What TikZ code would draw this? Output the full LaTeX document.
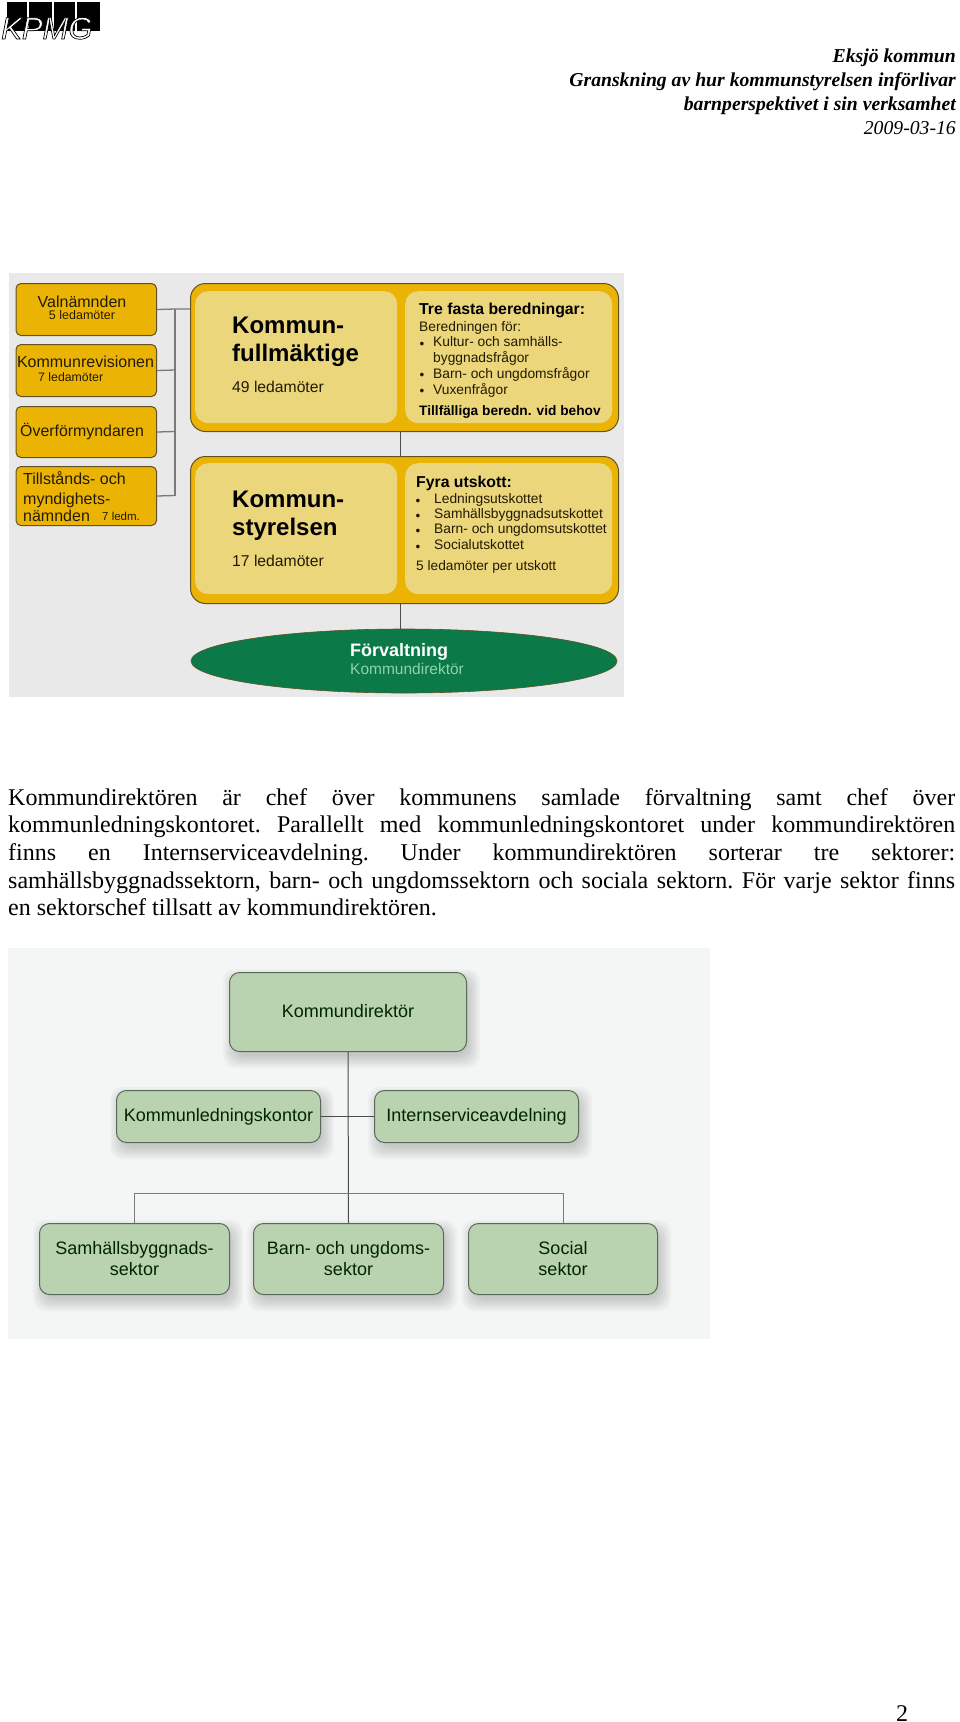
\documentclass[tikz,border=0pt]{standalone}
\usepackage{fontspec}
\setmainfont{Liberation Serif}
\newfontfamily\sa{Liberation Sans}
\usetikzlibrary{calc,shapes.geometric}
\definecolor{gold}{HTML}{EBB405}
\definecolor{pale}{HTML}{EBD67C}
\definecolor{panelgray}{HTML}{E9E9E9}
\definecolor{panelwhite}{HTML}{F4F5F5}
\definecolor{goldedge}{HTML}{5F5220}
\definecolor{forest}{HTML}{0B7A48}
\definecolor{mint}{HTML}{8FD3AC}
\definecolor{sage}{HTML}{B9D2B0}
\definecolor{sageedge}{HTML}{5A6A58}
\definecolor{busgray}{HTML}{7A7A7A}
\tikzset{
  x=1pt,y=-1pt,
  pxbox/.style n args={4}{minimum width=#3-#1,minimum height=#4-#2},
  smallgold/.style={draw=goldedge,line width=1pt,fill=gold,rounded corners=5pt,inner sep=0,anchor=north west},
  biggold/.style={draw=goldedge,line width=1pt,fill=gold,rounded corners=15pt,inner sep=0,anchor=north west},
  innerpale/.style={fill=pale,rounded corners=13pt,inner sep=0,anchor=north west},
  sagebox/.style={draw=sageedge,line width=1pt,fill=sage,rounded corners=10pt,inner sep=0,anchor=north west,
     font=\sa\fontsize{18}{21}\selectfont,align=center,text=black!85!green},
  lab/.style={inner sep=0,anchor=west,text=black!85!gold,execute at begin node={\rule[-.2em]{0pt}{.72em}}},
  goldln/.style={line width=1.3pt,draw=busgray},
  thinln/.style={line width=1pt,draw=black!70},
  busln/.style={line width=1pt,draw=busgray},
}
\newcommand{\softshadow}[4]{%
  \foreach \e in {10,8,6,4,2,0,-2}{%
    \fill[black,opacity=.028,rounded corners=12pt] (#1+4-\e,#2+7-\e) rectangle (#3+4+\e,#4+7+\e);}}
\begin{document}
\begin{tikzpicture}
\useasboundingbox (0,0) rectangle (960,1722);
\fill[white] (0,0) rectangle (960,1722);

% logo
\foreach \a/\b in {7/27,29/52,54/75,77/100}{\fill[black] (\a,2) rectangle (\b,31);}
\node[inner sep=0,anchor=base west,text=white] (kpmg) at (1,39) {\sa\itshape\fontsize{31}{31}\selectfont\special{pdf:code 0 G 2 Tr 0.7 w}KPMG\special{pdf:code 0 Tr}};

% header
\node[inner sep=0,anchor=base east] (h1) at (956,62) {\fontsize{19.7}{24}\selectfont\bfseries\itshape Eksjö kommun};
\node[inner sep=0,anchor=base east] (h2) at (956,86) {\fontsize{19.7}{24}\selectfont\bfseries\itshape Granskning av hur kommunstyrelsen införlivar};
\node[inner sep=0,anchor=base east] (h3) at (956,110) {\fontsize{19.7}{24}\selectfont\bfseries\itshape barnperspektivet i sin verksamhet};
\node[inner sep=0,anchor=base east] (h4) at (956,134) {\fontsize{19.7}{24}\selectfont\itshape 2009-03-16};

% panel 1
\fill[panelgray] (8.5,273) rectangle (624,697);
\node[smallgold,pxbox={15.5}{283}{156}{335}] (val) at (15.5,283) {};
\node[smallgold,pxbox={15.5}{344}{156}{396}] (rev) at (15.5,344) {};
\node[smallgold,pxbox={15.5}{406}{156}{457}] (ofm) at (15.5,406) {};
\node[smallgold,pxbox={15.5}{466}{156}{525}] (till) at (15.5,466) {};
\node[biggold,pxbox={190}{283}{618}{431}] (kf) at (190,283) {};
\node[innerpale,pxbox={195}{291}{397}{423}] (kfl) at (195,291) {};
\node[innerpale,pxbox={405}{291}{612}{423}] (kfr) at (405,291) {};
\node[biggold,pxbox={190}{456}{618}{603}] (ks) at (190,456) {};
\node[innerpale,pxbox={195}{463}{397}{594}] (ksl) at (195,463) {};
\node[innerpale,pxbox={405}{463}{612}{594}] (ksr) at (405,463) {};
\node[ellipse,draw=goldedge,fill=forest,line width=.6pt,inner sep=0,minimum width=426,minimum height=64,anchor=center] (forv) at (404,661) {};
\coordinate (bustop) at (175,309);
\coordinate (busrev) at (175,370);
\coordinate (busofm) at (175,431.5);
\coordinate (busbot) at (175,495.5);
\draw[goldln] (val.east) -- (bustop) -- (bustop -| kf.west);
\draw[goldln] (rev.east) -- (busrev);
\draw[goldln] (ofm.east) -- (busofm);
\draw[goldln] (till.east) -- (busbot);
\draw[goldln] (bustop) -- (busbot);
\coordinate (kfdown) at (400.7,431);
\coordinate (ksup) at (400.7,456);
\coordinate (ksdown) at (400.7,603);
\coordinate (fup) at (400.7,629);
\draw[thinln] (kfdown) -- (ksup);
\draw[thinln] (ksdown) -- (fup);

\node[lab,anchor=center,font=\sa\fontsize{16}{18}\selectfont] (t1) at (82,303) {Valnämnden};
\node[lab,anchor=center,font=\sa\fontsize{12.5}{14}\selectfont] (t2) at (82,316) {5 ledamöter};
\node[lab,anchor=center,font=\sa\fontsize{16}{18}\selectfont] (t3) at (85.5,363) {Kommunrevisionen};
\node[lab,font=\sa\fontsize{12.3}{14}\selectfont] (t4) at (38,378) {7 ledamöter};
\node[lab,font=\sa\fontsize{15.9}{18}\selectfont] (t5) at (20,431) {Överförmyndaren};
\node[lab,font=\sa\fontsize{16}{18}\selectfont] (t6) at (23,480) {Tillstånds- och};
\node[lab,font=\sa\fontsize{16}{18}\selectfont] (t7) at (23,500) {myndighets-};
\node[lab,font=\sa\fontsize{16}{18}\selectfont] (t8) at (23,517) {nämnden};
\node[lab,font=\sa\fontsize{11.5}{14}\selectfont] (t9) at (102,517.5) {7 ledm.};

\node[lab,text=black,font=\sa\bfseries\fontsize{24}{28}\selectfont] (t10) at (232,328) {Kommun-};
\node[lab,text=black,font=\sa\bfseries\fontsize{24}{28}\selectfont] (t11) at (232,355) {fullmäktige};
\node[lab,font=\sa\fontsize{15.7}{18}\selectfont] (t12) at (232,388) {49 ledamöter};
\node[lab,text=black,font=\sa\bfseries\fontsize{24}{28}\selectfont] (t13) at (232,502) {Kommun-};
\node[lab,text=black,font=\sa\bfseries\fontsize{24}{28}\selectfont] (t14) at (232,529) {styrelsen};
\node[lab,font=\sa\fontsize{15.7}{18}\selectfont] (t15) at (232,562) {17 ledamöter};

\node[lab,text=black,font=\sa\bfseries\fontsize{15.8}{18}\selectfont] (t16) at (419,310) {Tre fasta beredningar:};
\node[lab,font=\sa\fontsize{13.8}{16}\selectfont] (t17) at (419,328) {Beredningen för:};
\foreach \n/\y/\s in {b1/343/{Kultur- och samhälls-},b2/374/{Barn- och ungdomsfrågor},b3/390/{Vuxenfrågor}}{
  \node[lab,font=\sa\fontsize{13.8}{16}\selectfont] (\n) at (433,\y) {\s};
  \node[lab,anchor=center,font=\sa\fontsize{13.5}{16}\selectfont] (\n d) at (422,\y+3) {•};
}
\node[lab,font=\sa\fontsize{13.8}{16}\selectfont] (b1b) at (433,358) {byggnadsfrågor};
\node[lab,text=black,font=\sa\bfseries\fontsize{13.7}{16}\selectfont] (t18) at (419,412) {Tillfälliga beredn. vid behov};

\node[lab,text=black,font=\sa\bfseries\fontsize{15.8}{18}\selectfont] (t19) at (416,483) {Fyra utskott:};
\foreach \n/\y/\s in {u1/500/Ledningsutskottet,u2/515/Samhällsbyggnadsutskottet,u3/530/{Barn- och ungdomsutskottet},u4/546/Socialutskottet}{
  \node[lab,font=\sa\fontsize{13.8}{16}\selectfont] (\n) at (434,\y) {\s};
  \node[lab,anchor=center,font=\sa\fontsize{13.5}{16}\selectfont] (\n d) at (418,\y+3) {•};
}
\node[lab,font=\sa\fontsize{13.7}{16}\selectfont] (t20) at (416,567) {5 ledamöter per utskott};
\node[lab,text=white,font=\sa\bfseries\fontsize{18}{20}\selectfont] (t21) at (350,652) {Förvaltning};
\node[lab,text=mint,font=\sa\fontsize{15.5}{18}\selectfont] (t22) at (350,670) {Kommundirektör};

% body text
\node[inner sep=0,anchor=north west,text width=947pt,align=justify,font=\fontsize{24}{27.7}\selectfont] (body) at (8,788) {\frenchspacing\tolerance=10000\hyphenpenalty=10000
Kommundirektören är chef över kommunens samlade förvaltning samt chef över\linebreak
kommunledningskontoret. Parallellt med kommunledningskontoret under kommundirektören\linebreak
finns en Internserviceavdelning. Under kommundirektören sorterar tre sektorer:\linebreak
samhällsbyggnadssektorn, barn- och ungdomssektorn och sociala sektorn. För varje sektor finns\linebreak
en sektorschef tillsatt av kommundirektören.};

% panel 2
\fill[panelwhite] (8,948) rectangle (710,1339);
\softshadow{229}{972}{466}{1051}
\softshadow{116}{1090}{320}{1142}
\softshadow{374}{1090}{578}{1142}
\softshadow{39}{1223}{229}{1294}
\softshadow{253}{1223}{443}{1294}
\softshadow{468}{1223}{657}{1294}
\node[sagebox,pxbox={229}{972}{466}{1051}] (kd) at (229,972) {\raisebox{3pt}{Kommundirektör}};
\node[sagebox,pxbox={116}{1090}{320}{1142}] (kl) at (116,1090) {Kommunledningskontor};
\node[sagebox,pxbox={374}{1090}{578}{1142}] (is) at (374,1090) {Internserviceavdelning};
\node[sagebox,pxbox={39}{1223}{229}{1294}] (sb) at (39,1223) {Samhällsbyggnads-\\sektor};
\node[sagebox,pxbox={253}{1223}{443}{1294}] (bu) at (253,1223) {Barn- och ungdoms-\\sektor};
\node[sagebox,pxbox={468}{1223}{657}{1294}] (so) at (468,1223) {Social\\sektor};
\draw[thinln] (kd.south) -- (bu.north);
\draw[thinln] (kl.east) -- (is.west);
\coordinate (busl) at (134,1193);
\coordinate (busr) at (563,1193);
\draw[busln] (busl |- sb.north) -- (busl) -- (busr) -- (busr |- so.north);

% page number
\node[inner sep=0,anchor=base] (pg) at (902,1721) {\fontsize{24}{28}\selectfont 2};
\end{tikzpicture}
\end{document}
